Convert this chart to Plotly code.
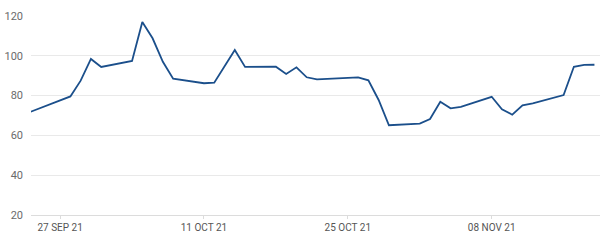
import plotly.graph_objects as go

dates = ["2021-09-24", "2021-09-28", "2021-09-29", "2021-09-30", "2021-10-01",
         "2021-10-04", "2021-10-05", "2021-10-06", "2021-10-07", "2021-10-08",
         "2021-10-11", "2021-10-12", "2021-10-14", "2021-10-15",
         "2021-10-18", "2021-10-19", "2021-10-20", "2021-10-21", "2021-10-22",
         "2021-10-25", "2021-10-26", "2021-10-27", "2021-10-28", "2021-10-29",
         "2021-11-01", "2021-11-02", "2021-11-03", "2021-11-04", "2021-11-05",
         "2021-11-08", "2021-11-09", "2021-11-10", "2021-11-11", "2021-11-12",
         "2021-11-15", "2021-11-16", "2021-11-17", "2021-11-18"]
values = [71.6, 79.6, 87.5, 98.4, 94.4,
          97.4, 117.0, 108.8, 97.0, 88.5,
          86.2, 86.5, 102.9, 94.4,
          94.5, 90.9, 94.2, 89.2, 88.2,
          89.2, 89.2, 87.7, 77.8, 65.1,
          65.9, 68.2, 76.9, 73.6, 74.3,
          79.4, 73.1, 70.4, 75.1, 76.1,
          80.3, 94.5, 95.4, 95.5]

x_tick_vals = ["2021-09-27", "2021-10-11", "2021-10-25", "2021-11-08"]
x_tick_text = ["27 SEP 21", "11 OCT 21", "25 OCT 21", "08 NOV 21"]
y_tick_vals = [20, 40, 60, 80, 100, 120]

fig = go.Figure(go.Scatter(
    x=dates, y=values, mode="lines",
    line=dict(color="#1b4f8b", width=1.8),
    hoverinfo="skip",
))

fig.update_layout(
    width=600, height=241,
    margin=dict(l=31, r=0, t=16, b=26),
    paper_bgcolor="white", plot_bgcolor="white",
    showlegend=False,
    font=dict(family="Roboto, Inter, sans-serif", size=11, color="#6b6b6b"),
    xaxis=dict(
        range=["2021-09-24 04:00", "2021-11-18 13:00"],
        tickvals=x_tick_vals, ticktext=x_tick_text,
        showgrid=False, zeroline=False,
        showline=True, linecolor="#dcdcdc", linewidth=1,
        ticks="outside", ticklen=3, tickcolor="#dcdcdc",
        tickfont=dict(size=10, color="#555555"),
    ),
    yaxis=dict(
        range=[20, 120],
        tickvals=y_tick_vals,
        showgrid=True, gridcolor="#e9e9e9", gridwidth=1,
        zeroline=False, showline=False,
        ticks="", ticklabelstandoff=7,
        tickfont=dict(size=11, color="#6b6b6b"),
    ),
)

fig.write_html("out.html")
